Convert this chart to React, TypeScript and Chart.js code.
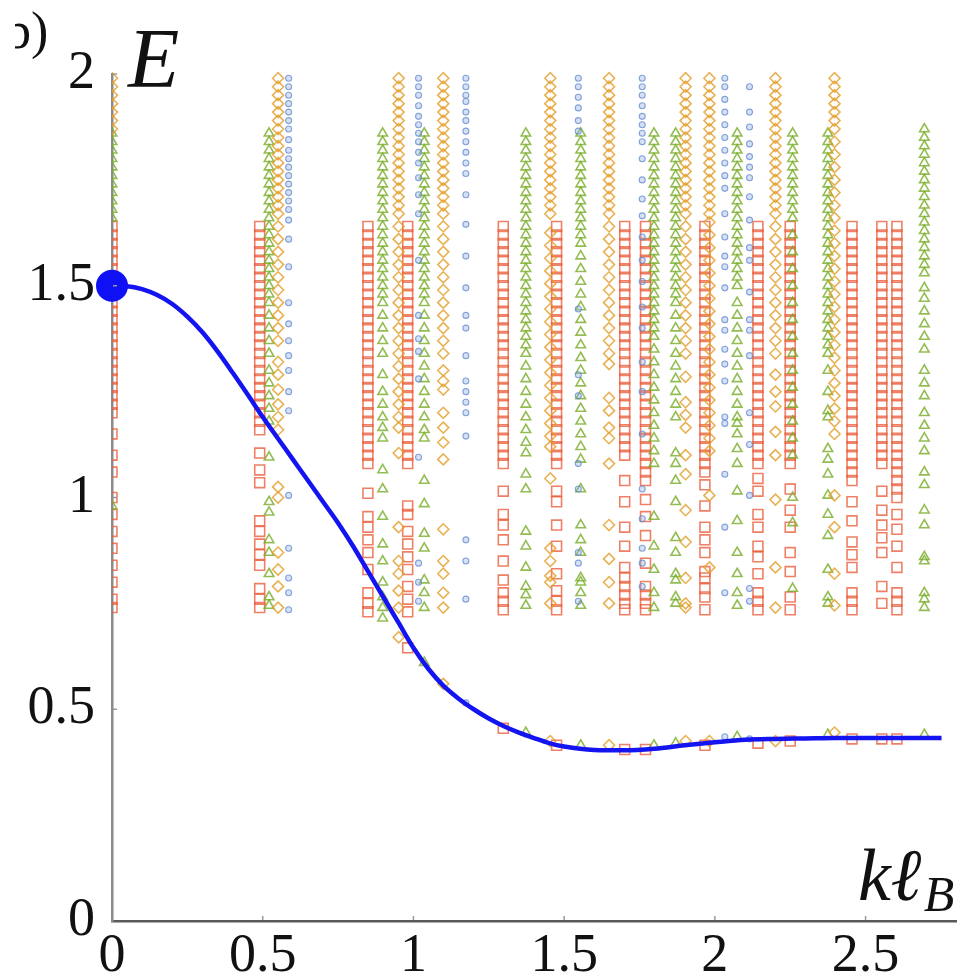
import React, { useEffect, useRef } from "react";
import { Chart, registerables } from "chart.js";

Chart.register(...registerables);

// ---------- axis ticks ----------
const X_TICKS = [0, 0.5, 1, 1.5, 2, 2.5];
const Y_TICKS = [0, 0.5, 1, 1.5, 2];

// ---------- blue dispersion curve E(k l_B) ----------
const CURVE_K = [0, 0.05, 0.1, 0.15, 0.2, 0.25, 0.3, 0.35, 0.4, 0.45, 0.5, 0.55, 0.6, 0.65, 0.7, 0.75, 0.8, 0.85, 0.9, 0.95, 1.0, 1.05, 1.1, 1.15, 1.2, 1.25, 1.3, 1.35, 1.4, 1.45, 1.5, 1.6, 1.7, 1.8, 1.9, 2.0, 2.1, 2.2, 2.3, 2.4, 2.5, 2.6, 2.752];
const CURVE_E = [1.5, 1.499, 1.492, 1.478, 1.457, 1.427, 1.39, 1.345, 1.295, 1.243, 1.19, 1.14, 1.09, 1.04, 0.99, 0.94, 0.885, 0.825, 0.765, 0.705, 0.645, 0.595, 0.555, 0.525, 0.5, 0.478, 0.46, 0.445, 0.432, 0.42, 0.412, 0.404, 0.403, 0.407, 0.415, 0.422, 0.428, 0.43, 0.431, 0.432, 0.432, 0.432, 0.432];
const DOT_K = [0];
const DOT_E = [1.5];

// ---------- red squares ----------
const RED_X = [0, 0.49, 0.849, 0.981, 1.298, 1.475, 1.701, 1.77, 1.967, 2.143, 2.25, 2.455, 2.554, 2.604];
const RED_Y = [
  [1.64, 1.62, 1.6, 1.58, 1.56, 1.54, 1.52, 1.5, 1.48, 1.46, 1.44, 1.42, 1.4, 1.38, 1.36, 1.34, 1.32, 1.3, 1.28, 1.26, 1.24, 1.22, 1.2, 1.15, 1.1, 1.06, 1.0, 0.96, 0.92, 0.88, 0.84, 0.8, 0.76, 0.74],
  [1.64, 1.62, 1.6, 1.58, 1.56, 1.54, 1.52, 1.5, 1.48, 1.46, 1.44, 1.42, 1.4, 1.38, 1.36, 1.34, 1.32, 1.3, 1.28, 1.26, 1.24, 1.22, 1.2, 1.18, 1.16, 1.105, 1.065, 1.035, 0.945, 0.92, 0.89, 0.865, 0.84, 0.785, 0.76, 0.74],
  [1.64, 1.62, 1.6, 1.58, 1.56, 1.54, 1.52, 1.5, 1.48, 1.46, 1.44, 1.42, 1.4, 1.38, 1.36, 1.34, 1.32, 1.3, 1.28, 1.26, 1.24, 1.22, 1.2, 1.18, 1.16, 1.14, 1.12, 1.1, 1.08, 1.01, 0.955, 0.93, 0.9, 0.87, 0.83, 0.775, 0.75, 0.73],
  [1.64, 1.62, 1.6, 1.58, 1.56, 1.54, 1.52, 1.5, 1.48, 1.46, 1.44, 1.42, 1.4, 1.38, 1.36, 1.34, 1.32, 1.3, 1.28, 1.26, 1.24, 1.22, 1.2, 1.18, 1.16, 1.14, 1.12, 1.1, 1.08, 0.98, 0.96, 0.92, 0.89, 0.86, 0.83, 0.79, 0.76, 0.73, 0.645],
  [1.64, 1.62, 1.6, 1.58, 1.56, 1.54, 1.52, 1.5, 1.48, 1.46, 1.44, 1.42, 1.4, 1.38, 1.36, 1.34, 1.32, 1.3, 1.28, 1.26, 1.24, 1.22, 1.2, 1.18, 1.16, 1.14, 1.12, 1.1, 1.08, 1.015, 0.96, 0.935, 0.9, 0.85, 0.805, 0.775, 0.755, 0.735, 0.455],
  [1.64, 1.62, 1.6, 1.58, 1.56, 1.54, 1.52, 1.5, 1.48, 1.46, 1.44, 1.42, 1.4, 1.38, 1.36, 1.34, 1.32, 1.3, 1.28, 1.26, 1.24, 1.22, 1.2, 1.18, 1.16, 1.14, 1.12, 1.1, 1.08, 1.015, 0.99, 0.935, 0.885, 0.82, 0.78, 0.755, 0.735, 0.415],
  [1.64, 1.62, 1.6, 1.58, 1.56, 1.54, 1.52, 1.5, 1.48, 1.46, 1.44, 1.42, 1.4, 1.38, 1.36, 1.34, 1.32, 1.3, 1.28, 1.26, 1.24, 1.22, 1.2, 1.18, 1.16, 1.14, 1.12, 1.1, 1.04, 0.99, 0.93, 0.885, 0.835, 0.81, 0.79, 0.77, 0.75, 0.735, 0.405],
  [1.64, 1.62, 1.6, 1.58, 1.56, 1.54, 1.52, 1.5, 1.48, 1.46, 1.44, 1.42, 1.4, 1.38, 1.36, 1.34, 1.32, 1.3, 1.28, 1.26, 1.24, 1.22, 1.2, 1.18, 1.16, 1.14, 1.12, 1.1, 1.08, 1.06, 1.04, 0.995, 0.955, 0.91, 0.845, 0.79, 0.77, 0.75, 0.735, 0.405],
  [1.64, 1.62, 1.6, 1.58, 1.56, 1.54, 1.52, 1.5, 1.48, 1.46, 1.44, 1.42, 1.4, 1.38, 1.36, 1.34, 1.32, 1.3, 1.28, 1.26, 1.24, 1.22, 1.2, 1.18, 1.16, 1.14, 1.12, 1.1, 1.08, 1.06, 1.03, 0.98, 0.93, 0.9, 0.87, 0.825, 0.81, 0.785, 0.765, 0.735, 0.415],
  [1.64, 1.62, 1.6, 1.58, 1.56, 1.54, 1.52, 1.5, 1.48, 1.46, 1.44, 1.42, 1.4, 1.38, 1.36, 1.34, 1.32, 1.3, 1.28, 1.26, 1.24, 1.22, 1.2, 1.18, 1.16, 1.14, 1.12, 1.1, 1.08, 1.045, 1.015, 0.96, 0.93, 0.885, 0.86, 0.82, 0.775, 0.755, 0.735, 0.42],
  [1.64, 1.62, 1.6, 1.58, 1.56, 1.54, 1.52, 1.5, 1.48, 1.46, 1.44, 1.42, 1.4, 1.38, 1.36, 1.34, 1.32, 1.3, 1.28, 1.26, 1.24, 1.22, 1.2, 1.18, 1.16, 1.14, 1.12, 1.1, 1.08, 1.02, 0.97, 0.93, 0.87, 0.825, 0.765, 0.735, 0.425],
  [1.64, 1.62, 1.6, 1.58, 1.56, 1.54, 1.52, 1.5, 1.48, 1.46, 1.44, 1.42, 1.4, 1.38, 1.36, 1.34, 1.32, 1.3, 1.28, 1.26, 1.24, 1.22, 1.2, 1.18, 1.16, 1.14, 1.12, 1.1, 1.08, 1.06, 1.04, 0.99, 0.945, 0.895, 0.865, 0.835, 0.775, 0.755, 0.735, 0.43],
  [1.64, 1.62, 1.6, 1.58, 1.56, 1.54, 1.52, 1.5, 1.48, 1.46, 1.44, 1.42, 1.4, 1.38, 1.36, 1.34, 1.32, 1.3, 1.28, 1.26, 1.24, 1.22, 1.2, 1.18, 1.16, 1.14, 1.12, 1.1, 1.08, 1.015, 0.97, 0.935, 0.905, 0.87, 0.79, 0.75, 0.43],
  [1.64, 1.62, 1.6, 1.58, 1.56, 1.54, 1.52, 1.5, 1.48, 1.46, 1.44, 1.42, 1.4, 1.38, 1.36, 1.34, 1.32, 1.3, 1.28, 1.26, 1.24, 1.22, 1.2, 1.18, 1.16, 1.14, 1.12, 1.1, 1.08, 1.06, 1.04, 1.02, 1.0, 0.96, 0.925, 0.885, 0.835, 0.775, 0.755, 0.735, 0.43],
];

// ---------- green triangles ----------
const GREEN_X = [0, 0.521, 0.898, 1.036, 1.373, 1.555, 1.798, 1.87, 2.074, 2.258, 2.375, 2.695];
const GREEN_Y = [
  [1.86, 1.84, 1.82, 1.8, 1.78, 1.76, 1.74, 1.72, 1.7, 1.68, 1.66, 0.98],
  [1.86, 1.84, 1.82, 1.8, 1.78, 1.76, 1.74, 1.72, 1.7, 1.68, 1.66, 1.64, 1.62, 1.6, 1.58, 1.56, 1.54, 1.52, 1.5, 1.48, 1.46, 1.43, 1.4, 1.37, 1.34, 1.3, 1.27, 1.24, 1.21, 1.18, 1.095, 0.99, 0.965, 0.9, 0.87, 0.82, 0.765, 0.745],
  [1.86, 1.84, 1.82, 1.8, 1.78, 1.76, 1.74, 1.72, 1.7, 1.68, 1.66, 1.64, 1.62, 1.6, 1.58, 1.56, 1.54, 1.52, 1.5, 1.48, 1.46, 1.43, 1.4, 1.37, 1.34, 1.29, 1.25, 1.22, 1.19, 1.165, 1.14, 1.065, 1.02, 0.955, 0.89, 0.85, 0.8, 0.765, 0.74, 0.715],
  [1.86, 1.84, 1.82, 1.8, 1.78, 1.76, 1.74, 1.72, 1.7, 1.68, 1.66, 1.64, 1.62, 1.6, 1.58, 1.56, 1.54, 1.52, 1.5, 1.48, 1.46, 1.43, 1.4, 1.37, 1.34, 1.31, 1.28, 1.25, 1.22, 1.19, 1.16, 1.14, 1.04, 0.985, 0.915, 0.88, 0.805, 0.775, 0.74, 0.61],
  [1.86, 1.84, 1.82, 1.8, 1.78, 1.76, 1.74, 1.72, 1.7, 1.68, 1.66, 1.64, 1.62, 1.6, 1.58, 1.56, 1.54, 1.52, 1.5, 1.48, 1.46, 1.44, 1.42, 1.4, 1.38, 1.36, 1.34, 1.31, 1.28, 1.25, 1.22, 1.19, 1.16, 1.13, 1.105, 1.055, 1.02, 0.92, 0.885, 0.835, 0.79, 0.77, 0.745, 0.445],
  [1.86, 1.84, 1.82, 1.8, 1.78, 1.76, 1.74, 1.72, 1.7, 1.68, 1.66, 1.64, 1.62, 1.6, 1.57, 1.54, 1.51, 1.48, 1.45, 1.42, 1.39, 1.36, 1.33, 1.3, 1.27, 1.24, 1.21, 1.18, 1.15, 1.12, 1.09, 1.02, 0.935, 0.9, 0.87, 0.81, 0.8, 0.775, 0.745, 0.415],
  [1.86, 1.84, 1.82, 1.8, 1.78, 1.76, 1.74, 1.72, 1.7, 1.68, 1.66, 1.64, 1.62, 1.6, 1.58, 1.56, 1.54, 1.52, 1.5, 1.48, 1.46, 1.44, 1.42, 1.4, 1.38, 1.35, 1.32, 1.29, 1.26, 1.23, 1.2, 1.17, 1.14, 1.11, 1.08, 0.955, 0.885, 0.83, 0.775, 0.74, 0.415],
  [1.86, 1.84, 1.82, 1.8, 1.78, 1.76, 1.74, 1.72, 1.7, 1.68, 1.66, 1.64, 1.62, 1.6, 1.58, 1.56, 1.54, 1.52, 1.5, 1.48, 1.46, 1.43, 1.4, 1.37, 1.34, 1.31, 1.28, 1.25, 1.22, 1.19, 1.105, 1.08, 1.04, 0.99, 0.905, 0.87, 0.82, 0.805, 0.765, 0.75, 0.42],
  [1.86, 1.84, 1.82, 1.8, 1.78, 1.76, 1.74, 1.72, 1.7, 1.68, 1.66, 1.64, 1.62, 1.6, 1.58, 1.56, 1.54, 1.52, 1.5, 1.46, 1.43, 1.4, 1.37, 1.34, 1.31, 1.28, 1.25, 1.22, 1.19, 1.175, 1.15, 1.115, 1.08, 1.015, 0.945, 0.87, 0.82, 0.775, 0.745, 0.435],
  [1.86, 1.84, 1.82, 1.8, 1.78, 1.76, 1.74, 1.72, 1.7, 1.68, 1.66, 1.62, 1.58, 1.54, 1.5, 1.46, 1.42, 1.38, 1.34, 1.3, 1.26, 1.22, 1.18, 1.14, 1.1, 1.0, 0.94, 0.785],
  [1.86, 1.84, 1.82, 1.8, 1.78, 1.76, 1.74, 1.72, 1.7, 1.68, 1.66, 1.64, 1.62, 1.6, 1.58, 1.56, 1.54, 1.52, 1.5, 1.48, 1.46, 1.44, 1.42, 1.4, 1.38, 1.36, 1.34, 1.3, 1.25, 1.205, 1.19, 1.115, 1.09, 1.055, 1.005, 0.96, 0.91, 0.83, 0.765, 0.75, 0.44],
  [1.87, 1.85, 1.83, 1.81, 1.79, 1.77, 1.75, 1.73, 1.71, 1.69, 1.67, 1.65, 1.63, 1.61, 1.59, 1.57, 1.55, 1.53, 1.495, 1.47, 1.44, 1.41, 1.38, 1.35, 1.3, 1.27, 1.24, 1.2, 1.17, 1.14, 1.11, 1.06, 1.03, 0.97, 0.935, 0.86, 0.85, 0.775, 0.76, 0.74, 0.44],
];

// ---------- orange diamonds ----------
const ORANGE_X = [0, 0.551, 0.951, 1.099, 1.454, 1.649, 1.903, 1.982, 2.201, 2.397];
const ORANGE_Y = [
  [1.99, 1.97, 1.95, 1.93, 1.91, 1.89, 1.87],
  [1.99, 1.97, 1.95, 1.93, 1.91, 1.89, 1.87, 1.85, 1.83, 1.81, 1.79, 1.77, 1.75, 1.73, 1.71, 1.69, 1.67, 1.64, 1.61, 1.58, 1.55, 1.52, 1.49, 1.46, 1.43, 1.4, 1.37, 1.32, 1.29, 1.255, 1.22, 1.19, 1.16, 1.025, 1.0, 0.87, 0.83, 0.79, 0.74],
  [1.99, 1.97, 1.95, 1.93, 1.91, 1.89, 1.87, 1.85, 1.83, 1.81, 1.79, 1.77, 1.75, 1.73, 1.71, 1.69, 1.67, 1.64, 1.61, 1.58, 1.55, 1.52, 1.49, 1.46, 1.43, 1.4, 1.37, 1.34, 1.31, 1.28, 1.25, 1.22, 1.19, 1.165, 1.105, 0.93, 0.85, 0.82, 0.78, 0.74, 0.67],
  [1.99, 1.97, 1.95, 1.93, 1.91, 1.89, 1.87, 1.85, 1.83, 1.81, 1.79, 1.77, 1.75, 1.73, 1.71, 1.69, 1.67, 1.64, 1.61, 1.58, 1.55, 1.52, 1.49, 1.46, 1.43, 1.4, 1.37, 1.34, 1.3, 1.275, 1.255, 1.2, 1.165, 1.13, 1.09, 0.925, 0.85, 0.82, 0.775, 0.74, 0.56],
  [1.99, 1.97, 1.95, 1.93, 1.91, 1.89, 1.87, 1.85, 1.83, 1.81, 1.79, 1.77, 1.75, 1.73, 1.71, 1.69, 1.67, 1.625, 1.595, 1.565, 1.535, 1.505, 1.475, 1.445, 1.415, 1.385, 1.355, 1.325, 1.295, 1.265, 1.235, 1.205, 1.175, 1.145, 1.12, 1.045, 0.88, 0.85, 0.815, 0.8, 0.75, 0.425],
  [1.99, 1.97, 1.95, 1.93, 1.91, 1.89, 1.87, 1.85, 1.83, 1.81, 1.79, 1.77, 1.75, 1.73, 1.71, 1.69, 1.67, 1.64, 1.61, 1.58, 1.55, 1.52, 1.49, 1.46, 1.43, 1.4, 1.37, 1.34, 1.315, 1.235, 1.205, 1.165, 1.14, 1.08, 0.935, 0.855, 0.8, 0.75, 0.415],
  [1.99, 1.97, 1.95, 1.93, 1.91, 1.89, 1.87, 1.85, 1.83, 1.81, 1.79, 1.77, 1.75, 1.73, 1.71, 1.69, 1.67, 1.64, 1.61, 1.58, 1.55, 1.52, 1.49, 1.46, 1.43, 1.4, 1.37, 1.34, 1.285, 1.225, 1.195, 1.165, 1.1, 1.055, 0.97, 0.895, 0.81, 0.75, 0.74, 0.425],
  [1.99, 1.97, 1.95, 1.93, 1.91, 1.89, 1.87, 1.85, 1.83, 1.81, 1.79, 1.77, 1.75, 1.73, 1.71, 1.69, 1.67, 1.65, 1.62, 1.59, 1.56, 1.53, 1.5, 1.47, 1.44, 1.41, 1.38, 1.35, 1.32, 1.29, 1.26, 1.23, 1.2, 1.17, 1.14, 1.11, 1.005, 0.835, 0.425],
  [1.99, 1.97, 1.95, 1.93, 1.91, 1.89, 1.87, 1.85, 1.83, 1.81, 1.79, 1.77, 1.75, 1.73, 1.71, 1.69, 1.67, 1.64, 1.61, 1.58, 1.55, 1.52, 1.49, 1.46, 1.43, 1.4, 1.37, 1.34, 1.29, 1.25, 1.215, 1.155, 1.1, 0.995, 0.835, 0.74, 0.425],
  [1.99, 1.97, 1.95, 1.93, 1.91, 1.89, 1.87, 1.84, 1.81, 1.78, 1.75, 1.72, 1.69, 1.66, 1.63, 1.6, 1.57, 1.54, 1.51, 1.48, 1.45, 1.42, 1.39, 1.36, 1.33, 1.3, 1.27, 1.24, 1.21, 1.18, 1.15, 1.005, 0.93, 0.82, 0.745, 0.445],
];

// ---------- blue circles ----------
const BLUE_X = [0.586, 1.017, 1.174, 1.547, 1.759, 2.033, 2.115];
const BLUE_Y = [
  [1.99, 1.97, 1.95, 1.93, 1.91, 1.89, 1.87, 1.845, 1.82, 1.8, 1.78, 1.76, 1.74, 1.72, 1.7, 1.68, 1.655, 1.61, 1.545, 1.46, 1.41, 1.37, 1.335, 1.3, 1.25, 1.205, 1.005, 0.88, 0.81, 0.775, 0.735],
  [1.99, 1.97, 1.95, 1.925, 1.9, 1.88, 1.86, 1.84, 1.815, 1.79, 1.755, 1.715, 1.67, 1.56, 1.43, 1.375, 1.345, 1.28, 1.095, 0.845, 0.8, 0.755],
  [1.99, 1.97, 1.95, 1.935, 1.91, 1.89, 1.865, 1.84, 1.815, 1.79, 1.765, 1.715, 1.645, 1.57, 1.495, 1.43, 1.4, 1.335, 1.275, 1.25, 1.225, 1.2, 1.145, 0.9, 0.85, 0.76, 0.515],
  [1.99, 1.97, 1.945, 1.92, 1.89, 1.865, 1.445, 1.29, 1.24, 1.08, 1.02, 0.87, 0.845, 0.755],
  [1.99, 1.97, 1.95, 1.925, 1.9, 1.88, 1.86, 1.84, 1.8, 1.75, 1.705, 1.665, 1.615, 1.56, 1.51, 1.45, 1.4, 1.32, 1.25, 1.15, 1.02, 0.95, 0.88, 0.845, 0.79],
  [1.99, 1.97, 1.94, 1.91, 1.88, 1.85, 1.82, 1.79, 1.76, 1.73, 1.67, 1.615, 1.57, 1.545, 1.495, 1.42, 1.395, 1.35, 1.315, 1.275, 1.19, 1.175, 1.055, 0.93, 0.775, 0.435],
  [1.97, 1.91, 1.875, 1.835, 1.805, 1.78, 1.755, 1.71, 1.655, 1.59, 1.56, 1.485, 1.42, 1.395, 1.335, 1.2, 1.125, 1.005, 0.785, 0.755, 0.43],
];

const SERIF = '"Liberation Serif", "DejaVu Serif", serif';

function columnsToPoints(xs: number[], ys: number[][]) {
  const pts: { x: number; y: number }[] = [];
  xs.forEach((x, i) => {
    ys[i].forEach((y) => pts.push({ x, y }));
  });
  return pts;
}

const decorPlugin = {
  id: "decor",
  afterDraw(chart: any) {
    const { ctx, chartArea } = chart;
    const xs = chart.scales.x;
    const ys = chart.scales.y;
    ctx.save();
    // inward tick marks
    ctx.strokeStyle = "#9a9a9a";
    ctx.lineWidth = 1.5;
    X_TICKS.forEach((v) => {
      if (v === 0) return;
      const px = xs.getPixelForValue(v);
      ctx.beginPath();
      ctx.moveTo(px, chartArea.bottom - 1);
      ctx.lineTo(px, chartArea.bottom - 5);
      ctx.stroke();
    });
    Y_TICKS.forEach((v) => {
      if (v === 0) return;
      const py = ys.getPixelForValue(v);
      ctx.beginPath();
      ctx.moveTo(chartArea.left + 1, py);
      ctx.lineTo(chartArea.left + 5, py);
      ctx.stroke();
    });

    ctx.fillStyle = "#111";
    ctx.textBaseline = "alphabetic";
    ctx.textAlign = "left";
    // axis title E
    ctx.font = `italic 84px ${SERIF}`;
    ctx.fillText("E", 128, 87);
    // axis title k l_B
    ctx.font = `italic 74px ${SERIF}`;
    const main = "k\u2113";
    ctx.fillText(main, 858, 900);
    const w = ctx.measureText(main).width;
    ctx.font = `italic 50px ${SERIF}`;
    ctx.fillText("B", 858 + w + 2, 911);

    // cut-off panel label
    ctx.save();
    ctx.beginPath();
    ctx.rect(15, 0, 80, 70);
    ctx.clip();
    ctx.font = `52px ${SERIF}`;
    ctx.fillText("b)", 5, 48);
    ctx.restore();

    ctx.restore();
  },
};

export default function App() {
  const canvasRef = useRef<HTMLCanvasElement | null>(null);

  useEffect(() => {
    const canvas = canvasRef.current;
    if (!canvas) return;

    const redPts = columnsToPoints(RED_X, RED_Y);
    const greenPts = columnsToPoints(GREEN_X, GREEN_Y);
    const orangePts = columnsToPoints(ORANGE_X, ORANGE_Y);
    const bluePts = columnsToPoints(BLUE_X, BLUE_Y);
    const curve = CURVE_K.map((k, i) => ({ x: k, y: CURVE_E[i] }));
    const dot = DOT_K.map((k, i) => ({ x: k, y: DOT_E[i] }));

    const markerClip = { left: 0, top: 14, right: 14, bottom: 14 };

    const chart = new Chart(canvas, {
      type: "scatter",
      data: {
        datasets: [
          {
            label: "dot",
            data: dot,
            order: 0,
            pointStyle: "circle",
            pointRadius: 16,
            pointBackgroundColor: "#1010f4",
            pointBorderColor: "#1010f4",
            pointBorderWidth: 0,
            clip: false as any,
          },
          {
            label: "curve",
            data: curve,
            order: 1,
            showLine: true,
            borderColor: "#1414f0",
            borderWidth: 4.5,
            pointRadius: 0,
            cubicInterpolationMode: "monotone",
            fill: false,
            clip: false as any,
          },
          {
            label: "blue",
            data: bluePts,
            order: 2,
            pointStyle: "circle",
            pointRadius: 3,
            pointBorderWidth: 1.1,
            pointBorderColor: "rgba(95,135,205,0.75)",
            pointBackgroundColor: "rgba(140,170,225,0.35)",
            clip: markerClip as any,
          },
          {
            label: "orange",
            data: orangePts,
            order: 3,
            pointStyle: "rectRot",
            pointRadius: 5.5,
            pointBorderWidth: 1.6,
            pointBorderColor: "rgba(228,158,40,0.8)",
            pointBackgroundColor: "rgba(255,255,255,0)",
            clip: markerClip as any,
          },
          {
            label: "green",
            data: greenPts,
            order: 4,
            pointStyle: "triangle",
            pointRadius: 5.5,
            pointBorderWidth: 1.6,
            pointBorderColor: "rgba(120,172,40,0.8)",
            pointBackgroundColor: "rgba(255,255,255,0)",
            clip: markerClip as any,
          },
          {
            label: "red",
            data: redPts,
            order: 5,
            pointStyle: "rect",
            pointRadius: 7,
            pointBorderWidth: 1.6,
            pointBorderColor: "rgba(234,92,58,0.78)",
            pointBackgroundColor: "rgba(255,255,255,0)",
            clip: markerClip as any,
          },
        ],
      },
      options: {
        responsive: false,
        animation: false,
        devicePixelRatio: 1,
        events: [],
        layout: { padding: { top: 74, right: 14, left: 0, bottom: 0 } },
        plugins: {
          legend: { display: false },
          tooltip: { enabled: false },
        },
        scales: {
          x: {
            type: "linear",
            min: 0,
            max: 2.8,
            afterFit: (s: any) => {
              s.height = 59;
            },
            afterBuildTicks: (s: any) => {
              s.ticks = X_TICKS.map((v) => ({ value: v }));
            },
            grid: { display: false, drawTicks: false },
            border: { display: true, color: "#5a5a5a", width: 2.5 },
            ticks: {
              autoSkip: false,
              maxRotation: 0,
              padding: 9,
              color: "#111",
              font: { family: SERIF, size: 54, lineHeight: 1 },
              callback: (v: any) => String(v),
            },
          },
          y: {
            type: "linear",
            min: 0,
            max: 2,
            afterFit: (s: any) => {
              s.width = 112;
            },
            afterBuildTicks: (s: any) => {
              s.ticks = Y_TICKS.map((v) => ({ value: v }));
            },
            grid: { display: false, drawTicks: false },
            border: { display: true, color: "#8a8a8a", width: 2.5 },
            ticks: {
              autoSkip: false,
              padding: 17,
              color: "#111",
              font: { family: SERIF, size: 54, lineHeight: 1 },
              callback: (v: any) => String(v),
            },
          },
        },
      },
      plugins: [decorPlugin],
    });

    return () => {
      chart.destroy();
    };
  }, []);

  return (
    <div
      style={{
        position: "fixed",
        left: 0,
        top: 0,
        width: 972,
        height: 980,
        background: "#ffffff",
        overflow: "hidden",
      }}
    >
      <canvas
        ref={canvasRef}
        width={972}
        height={980}
        style={{ display: "block", width: 972, height: 980 }}
      />
    </div>
  );
}
